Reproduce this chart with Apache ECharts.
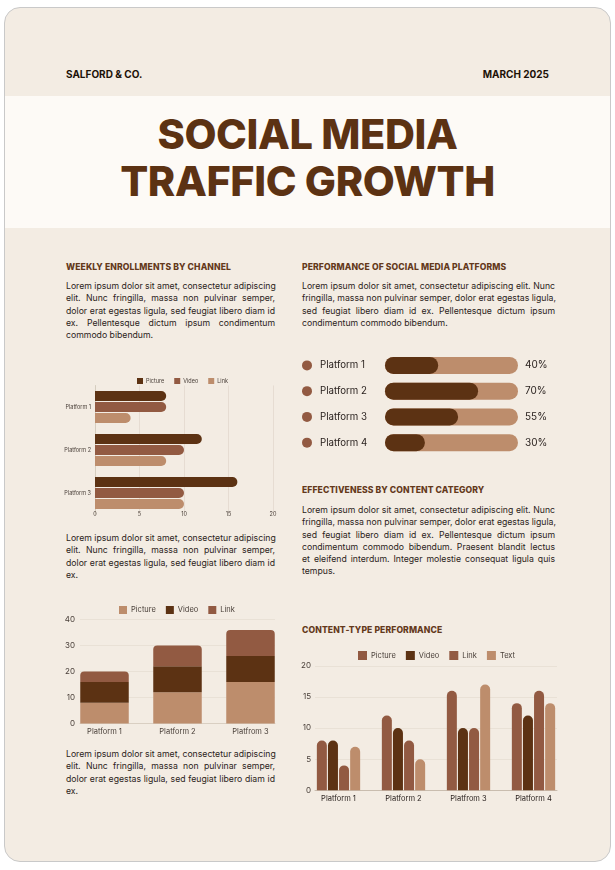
<!DOCTYPE html>
<html>
<head>
<meta charset="utf-8">
<title>Social Media Traffic Growth</title>
<script src="https://cdn.jsdelivr.net/npm/echarts@6/dist/echarts.min.js"></script>
<style>
html, body { margin: 0; padding: 0; background: #fff; }
body { width: 615px; height: 870px; position: relative; overflow: hidden; font-family: Inter, sans-serif; }
#card { position: absolute; left: 4px; top: 7px; width: 605px; height: 853px; background: #f3ece3; border: 1px solid #c9c9c9; border-radius: 16px; overflow: hidden; }
#band { position: absolute; left: 5px; top: 96px; width: 605px; height: 132px; background: #fdfaf6; }
.t { position: absolute; white-space: nowrap; }
.top { top: 68px; font-size: 10px; font-weight: 700; color: #1d1208; line-height: 12px; }
.big { left: 5px; width: 605px; text-align: center; font-size: 41.5px; font-weight: 800; color: #5c3213; line-height: 47px; letter-spacing: -0.4px; }
.h { font-size: 8.6px; font-weight: 800; color: #64391b; line-height: 12px; letter-spacing: 0.1px; }
.para { position: absolute; font-size: 8.7px; color: #2b2320; line-height: 12.3px; }
.para div { text-align: justify; text-align-last: justify; white-space: nowrap; }
.para div.last { text-align-last: left; }
.c { position: absolute; }
</style>
</head>
<body>
<div id="card"></div>
<div id="band"></div>
<div class="t top" style="left:66px">SALFORD &amp; CO.</div>
<div class="t top" style="right:66px">MARCH 2025</div>
<div class="t big" style="top:111px">SOCIAL MEDIA</div>
<div class="t big" style="top:158px">TRAFFIC GROWTH</div>

<div class="t h" style="left:66px;top:261px">WEEKLY ENROLLMENTS BY CHANNEL</div>
<div class="t h" style="left:302px;top:261px">PERFORMANCE OF SOCIAL MEDIA PLATFORMS</div>
<div class="t h" style="left:302px;top:484px">EFFECTIVENESS BY CONTENT CATEGORY</div>
<div class="t h" style="left:302px;top:624px">CONTENT-TYPE PERFORMANCE</div>

<div class="para" id="p1" style="left:66px;top:280px;width:209px"></div>
<div class="para" id="p2" style="left:66px;top:532px;width:209px"></div>
<div class="para" id="p3" style="left:66px;top:748px;width:209px"></div>
<div class="para" id="p4" style="left:302px;top:280px;width:253px"></div>
<div class="para" id="p5" style="left:302px;top:504px;width:253px"></div>

<div class="c" id="progress" style="left:295px;top:345px;width:270px;height:120px"></div>
<div class="c" id="hbar" style="left:50px;top:370px;width:240px;height:155px"></div>
<div class="c" id="stack" style="left:50px;top:600px;width:240px;height:140px"></div>
<div class="c" id="group" style="left:290px;top:645px;width:280px;height:165px"></div>

<script>
// text
var para1 = ['Lorem ipsum dolor sit amet, consectetur adipiscing', 'elit. Nunc fringilla, massa non pulvinar semper,', 'dolor erat egestas ligula, sed feugiat libero diam id', 'ex. Pellentesque dictum ipsum condimentum', 'commodo bibendum.'];
var para2 = ['Lorem ipsum dolor sit amet, consectetur adipiscing', 'elit. Nunc fringilla, massa non pulvinar semper,', 'dolor erat egestas ligula, sed feugiat libero diam id', 'ex.'];
var para4 = ['Lorem ipsum dolor sit amet, consectetur adipiscing elit. Nunc', 'fringilla, massa non pulvinar semper, dolor erat egestas ligula,', 'sed feugiat libero diam id ex. Pellentesque dictum ipsum', 'condimentum commodo bibendum.'];
var para5 = ['Lorem ipsum dolor sit amet, consectetur adipiscing elit. Nunc', 'fringilla, massa non pulvinar semper, dolor erat egestas ligula,', 'sed feugiat libero diam id ex. Pellentesque dictum ipsum', 'condimentum commodo bibendum. Praesent blandit lectus', 'et eleifend interdum. Integer molestie consequat ligula quis', 'tempus.'];

// progress rows
var progressNames = ['Platform 1', 'Platform 2', 'Platform 3', 'Platform 4'];
var progressValues = [40, 70, 55, 30];

// horizontal bars
var hbarCats = ['Platform 1', 'Platform 2', 'Platform 3'];
var hbarPicture = [8, 12, 16];
var hbarVideo = [8, 10, 10];
var hbarLink = [4, 8, 10];

// stacked bars
var stackCats = ['Platform 1', 'Platform 2', 'Platfrom 3'];
var stackPicture = [8, 12, 16];
var stackVideo = [8, 10, 10];
var stackLink = [4, 8, 10];

// grouped bars
var groupCats = ['Platform 1', 'Platform 2', 'Platfrom 3', 'Platform 4'];
var groupPicture = [8, 12, 16, 14];
var groupVideo = [8, 10, 10, 12];
var groupLink = [4, 8, 10, 16];
var groupText = [7, 5, 17, 14];

var DARK = '#5c3213', MID = '#925a42', LIGHT = '#bd8d6c', GRID = '#e9e1d6', INK = '#4a403a';
var FONT = 'Inter';

function fillPara(id, lines) {
    var box = document.getElementById(id);
    lines.forEach(function(line, i) {
        var d = document.createElement('div');
        d.textContent = line;
        if (i === lines.length - 1) d.className = 'last';
        box.appendChild(d);
    });
}
fillPara('p1', para1);
fillPara('p2', para2);
fillPara('p3', para2);
fillPara('p4', para4);
fillPara('p5', para5);

// progress bars
var progress = echarts.init(document.getElementById('progress'));
progress.setOption({
    animation: false,
    grid: { left: 90, top: 7.5, width: 133, height: 103 },
    xAxis: { type: 'value', min: 0, max: 100, show: false },
    yAxis: [{
        type: 'category', inverse: true, data: progressNames,
        axisLine: { show: false }, axisTick: { show: false },
        axisLabel: {
            margin: 83, align: 'left',
            formatter: function(v) { return '{dot|}{name|' + v + '}'; },
            rich: {
                dot: { width: 10, height: 10, borderRadius: 5, backgroundColor: MID },
                name: { padding: [0, 0, 0, 8], fontSize: 9.7, fontFamily: FONT, color: '#2b2320' }
            }
        }
    }, {
        type: 'category', inverse: true, position: 'right',
        data: progressValues.map(function(v) { return v + '%'; }),
        axisLine: { show: false }, axisTick: { show: false },
        axisLabel: { margin: 7, fontSize: 10, fontFamily: FONT, color: '#2b2320' }
    }],
    series: [{
        type: 'bar', data: progressValues, barWidth: 17, yAxisIndex: 0,
        showBackground: true,
        backgroundStyle: { color: LIGHT, borderRadius: 8.5 },
        itemStyle: { color: DARK, borderRadius: 8.5 }
    }]
});

// horizontal bars
var hbar = echarts.init(document.getElementById('hbar'));
hbar.setOption({
    animation: false,
    legend: {
        left: 82, top: 3, itemWidth: 6, itemHeight: 6, itemGap: 10, icon: 'rect',
        textStyle: { fontSize: 5.5, fontFamily: FONT, color: INK, padding: [0, 0, 0, -2] },
        data: ['Picture', 'Video', 'Link']
    },
    grid: { left: 45, top: 15.5, width: 178, height: 129 },
    xAxis: {
        type: 'value', min: 0, max: 20, interval: 5,
        axisLabel: { fontSize: 5.5, fontFamily: FONT, color: INK, margin: -3 },
        axisLine: { show: false }, axisTick: { show: false },
        splitLine: { lineStyle: { color: '#dfd6ca', width: 0.7 } }
    },
    yAxis: {
        type: 'category', inverse: true, data: hbarCats,
        axisLabel: { fontSize: 5.5, fontFamily: FONT, color: INK, margin: 4 },
        axisLine: { lineStyle: { color: '#cfc5b8', width: 0.7 } }, axisTick: { show: false }
    },
    series: [
        { name: 'Picture', type: 'bar', data: hbarPicture, barWidth: 10, barGap: '10%', itemStyle: { color: DARK, borderRadius: [0, 5, 5, 0] } },
        { name: 'Video', type: 'bar', data: hbarVideo, barWidth: 10, itemStyle: { color: MID, borderRadius: [0, 5, 5, 0] } },
        { name: 'Link', type: 'bar', data: hbarLink, barWidth: 10, itemStyle: { color: LIGHT, borderRadius: [0, 5, 5, 0] } }
    ]
});

// stacked bars, gridlines sit on their own narrower grid
var stack = echarts.init(document.getElementById('stack'));
stack.setOption({
    animation: false,
    legend: {
        left: 64, top: 1, itemWidth: 8, itemHeight: 8, itemGap: 10, icon: 'rect',
        textStyle: { fontSize: 7.5, fontFamily: FONT, color: INK, padding: [0, 0, 0, -1] },
        data: ['Picture', 'Video', 'Link']
    },
    grid: [
        { left: 30, top: 19.5, width: 195, height: 104 },
        { left: 18, top: 19.5, width: 219, height: 104 }
    ],
    xAxis: [{
        gridIndex: 0, type: 'category', data: stackCats,
        axisLabel: { show: false }, axisTick: { show: false },
        axisLine: { lineStyle: { color: '#d9cfc2' } }
    }, {
        gridIndex: 1, type: 'category', data: stackCats,
        axisLabel: { fontSize: 7.5, fontFamily: FONT, color: INK, margin: 4 },
        axisTick: { show: false }, axisLine: { show: false }
    }],
    yAxis: [{
        gridIndex: 0, type: 'value', min: 0, max: 40, interval: 10,
        axisLabel: { fontSize: 8, fontFamily: FONT, color: INK, margin: 5 },
        axisLine: { show: false }, axisTick: { show: false },
        splitLine: { lineStyle: { color: GRID } }
    }, {
        gridIndex: 1, type: 'value', min: 0, max: 40, show: false
    }],
    series: [
        { name: 'Picture', type: 'bar', stack: 'a', xAxisIndex: 1, yAxisIndex: 1, data: stackPicture, barWidth: 48.5, itemStyle: { color: LIGHT } },
        { name: 'Video', type: 'bar', stack: 'a', xAxisIndex: 1, yAxisIndex: 1, data: stackVideo, barWidth: 48.5, itemStyle: { color: DARK } },
        { name: 'Link', type: 'bar', stack: 'a', xAxisIndex: 1, yAxisIndex: 1, data: stackLink, barWidth: 48.5, itemStyle: { color: MID, borderRadius: [4, 4, 0, 0] } }
    ]
});

// grouped bars
var group = echarts.init(document.getElementById('group'));
group.setOption({
    animation: false,
    color: [MID, DARK, MID, LIGHT],
    legend: {
        left: 63, top: 1, itemWidth: 9, itemHeight: 9, itemGap: 10, icon: 'rect',
        textStyle: { fontSize: 7.5, fontFamily: FONT, color: INK, padding: [0, 0, 0, -1] },
        data: ['Picture', 'Video', 'Link', 'Text']
    },
    grid: [
        { left: 25, top: 20.8, width: 242, height: 124.5 },
        { left: 16, top: 20.8, width: 260, height: 124.5 }
    ],
    xAxis: [{
        gridIndex: 0, type: 'category', data: groupCats,
        axisLabel: { show: false }, axisTick: { show: false },
        axisLine: { lineStyle: { color: '#c9bdaf' } }
    }, {
        gridIndex: 1, type: 'category', data: groupCats,
        axisLabel: { fontSize: 7.5, fontFamily: FONT, color: '#2b2320', margin: 4 },
        axisTick: { show: false }, axisLine: { show: false }
    }],
    yAxis: [{
        gridIndex: 0, type: 'value', min: 0, max: 20, interval: 5,
        axisLabel: { fontSize: 8, fontFamily: FONT, color: INK, margin: 4 },
        axisLine: { show: false }, axisTick: { show: false },
        splitLine: { lineStyle: { color: GRID } }
    }, {
        gridIndex: 1, type: 'value', min: 0, max: 20, show: false
    }],
    series: [
        { name: 'Picture', type: 'bar', xAxisIndex: 1, yAxisIndex: 1, data: groupPicture, barWidth: 10, barGap: '11%', itemStyle: { borderRadius: [5, 5, 0, 0] } },
        { name: 'Video', type: 'bar', xAxisIndex: 1, yAxisIndex: 1, data: groupVideo, barWidth: 10, itemStyle: { borderRadius: [5, 5, 0, 0] } },
        { name: 'Link', type: 'bar', xAxisIndex: 1, yAxisIndex: 1, data: groupLink, barWidth: 10, itemStyle: { borderRadius: [5, 5, 0, 0] } },
        { name: 'Text', type: 'bar', xAxisIndex: 1, yAxisIndex: 1, data: groupText, barWidth: 10, itemStyle: { borderRadius: [5, 5, 0, 0] } }
    ]
});
</script>
</body>
</html>
